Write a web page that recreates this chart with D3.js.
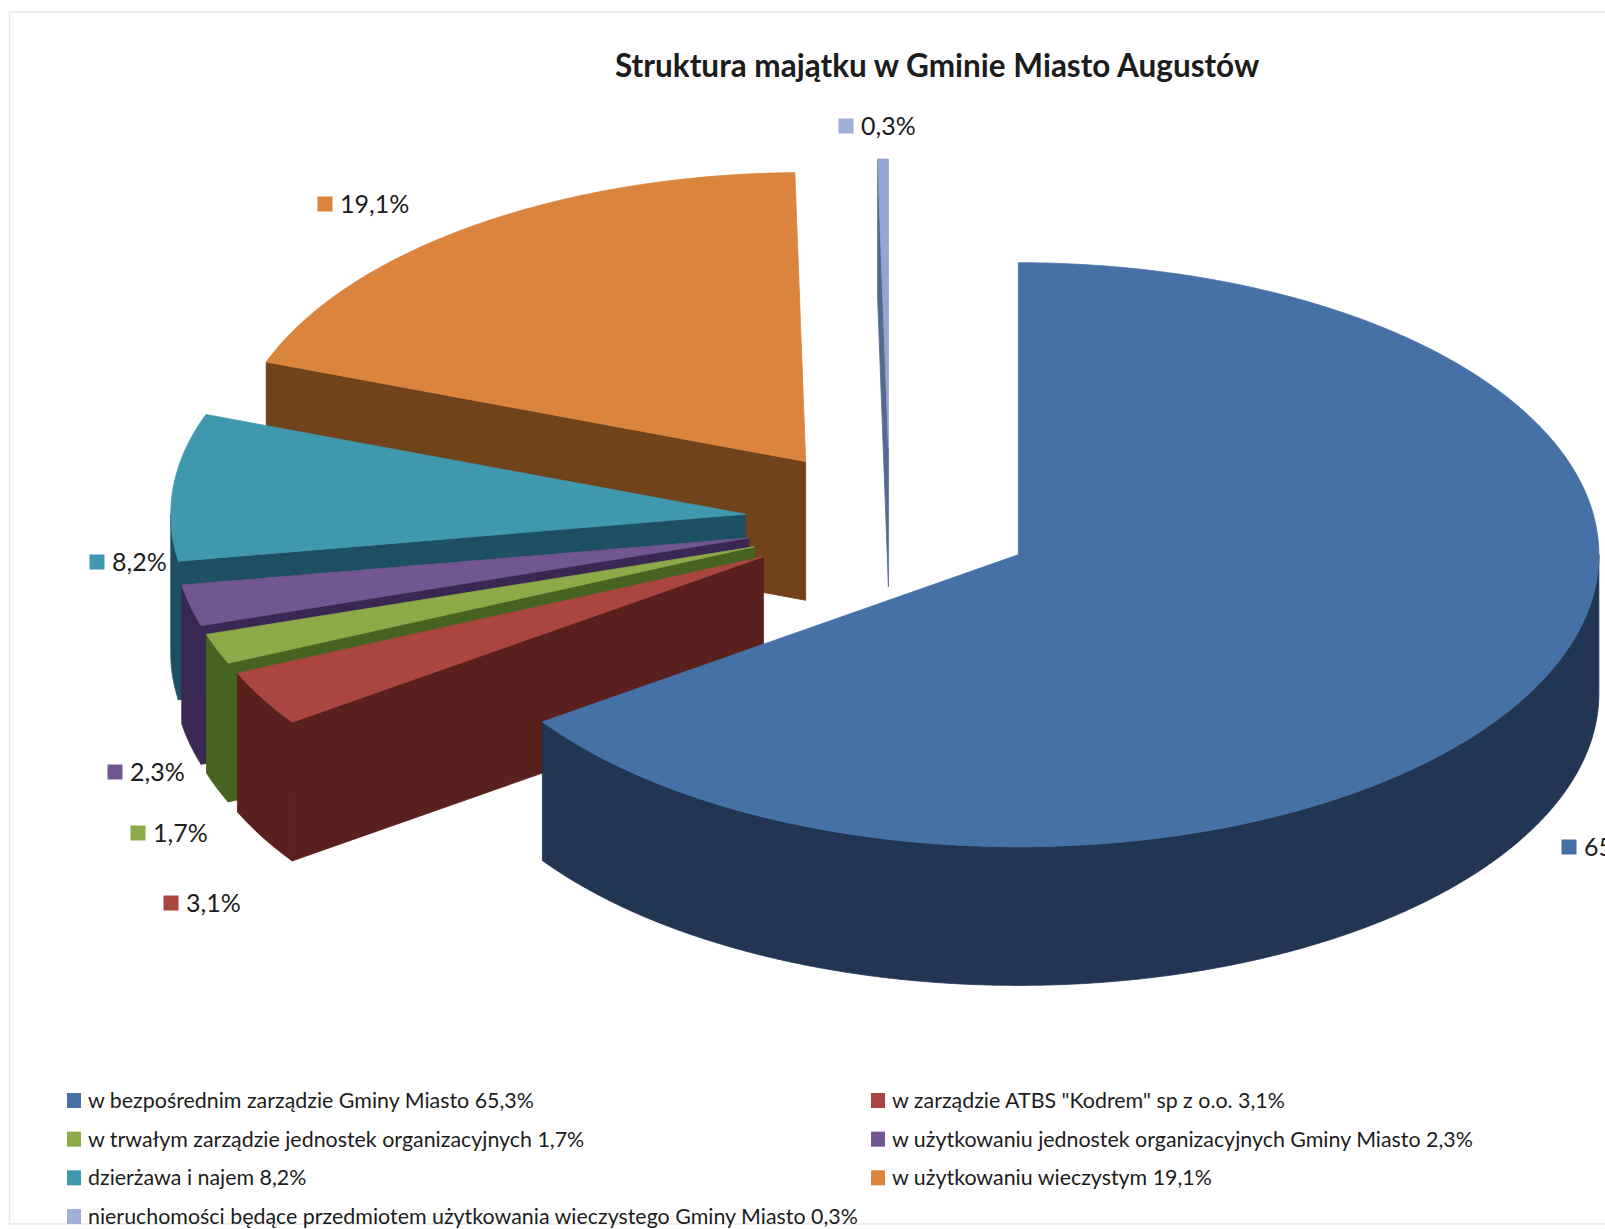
<!DOCTYPE html>
<html lang="pl">
<head>
<meta charset="utf-8">
<title>Struktura majątku</title>
<script src="https://cdn.jsdelivr.net/npm/d3@7/dist/d3.min.js"></script>
<style>
html,body{margin:0;padding:0;background:#fff;overflow:hidden}
svg{display:block}
text{font-family:Lato,"Open Sans",sans-serif;fill:#1c1c1c}
</style>
</head>
<body>
<svg id="chart" width="1605" height="1229" viewBox="0 0 1605 1229"></svg>
<script>
const titleText = "Struktura majątku w Gminie Miasto Augustów";
const categories = [
  "w bezpośrednim zarządzie Gminy Miasto 65,3%",
  'w zarządzie ATBS "Kodrem" sp z o.o. 3,1%',
  "w trwałym zarządzie jednostek organizacyjnych 1,7%",
  "w użytkowaniu jednostek organizacyjnych Gminy Miasto 2,3%",
  "dzierżawa i najem 8,2%",
  "w użytkowaniu wieczystym 19,1%",
  "nieruchomości będące przedmiotem użytkowania wieczystego Gminy Miasto 0,3%"
];
const values = [65.3, 3.1, 1.7, 2.3, 8.2, 19.1, 0.3];
const valueLabels = ["65,3%", "3,1%", "1,7%", "2,3%", "8,2%", "19,1%", "0,3%"];
const topColors = ["#4571A7", "#AA4541", "#8CAA47", "#71568F", "#4098AF", "#DB843D", "#93A6CF"];
const sideColors = ["#223654", "#5A201D", "#46631F", "#3A2852", "#1F4F62", "#70431B", "#56698F"];

// layout (separate from data)
const W = 1605, H = 1229;
const cx = 889.8, cy = 521, rx = 580.5, tilt = 0.503, depth = 138.7, explode = 145;
const farSideFactor = 0.99; // slices on the left read about 1% smaller in the 3-D view
const labelMarks = [[1569,847],[171,903],[138,833],[115,772],[97,562],[325,204],[846,126]];
const legendCol = d3.scaleOrdinal().domain([0,1]).range([74, 878]);
const legendRow = d3.scalePoint().domain([0,1,2,3]).range([1100.5, 1216.5]);

const svg = d3.select("#chart");
svg.append("rect").attr("x",9.5).attr("y",12).attr("width",1700).attr("height",1212)
   .attr("fill","#fff").attr("stroke","#e8e8e8").attr("stroke-width",1.5);

const slices = d3.pie().sort(null).value(d => d)(values).map((a,i) => ({...a, i}));
const line = d3.line();

function mid(a){ return (a.startAngle + a.endAngle)/2; }
function apex(a){
  const m = mid(a);
  return [cx + explode*Math.sin(m), cy - explode*tilt*Math.cos(m)];
}
function pt(a, ang, down){
  const o = apex(a), r = rx*(mid(a) > Math.PI ? farSideFactor : 1);
  return [o[0] + r*Math.sin(ang), o[1] - r*tilt*Math.cos(ang) + (down||0)];
}
function arcAngles(s, e){
  const n = Math.max(2, Math.ceil((e-s)/0.005));
  return d3.range(n+1).map(k => s + (e-s)*k/n);
}

// paint from the back of the pie to the front
const paintOrder = [6,5,4,3,2,1,0];
paintOrder.forEach(idx => {
  const a = slices[idx], s = a.startAngle, e = a.endAngle, o = apex(a);
  const g = svg.append("g").attr("class","slice");
  const side = sideColors[idx], top = topColors[idx];
  const paint = (pts, c) => g.append("path").attr("d", line(pts)+"Z")
    .attr("fill", c).attr("stroke", c).attr("stroke-width", 0.8);

  if (Math.sin(s) < 0) { // cut face on the start side is turned to the viewer
    const q = pt(a, s);
    paint([o, q, [q[0], q[1]+depth], [o[0], o[1]+depth]], side);
  }
  if (Math.sin(e) > 0) {
    const q = pt(a, e);
    paint([o, q, [q[0], q[1]+depth], [o[0], o[1]+depth]], side);
  }
  const ws = Math.max(s, Math.PI/2), we = Math.min(e, 3*Math.PI/2);
  if (we > ws) {
    const angs = arcAngles(ws, we);
    paint(angs.map(t => pt(a,t)).concat(angs.slice().reverse().map(t => pt(a,t,depth))), side);
  }
  paint([o].concat(arcAngles(s,e).map(t => pt(a,t))), top);
});

// data labels
slices.forEach(a => {
  const [x,y] = labelMarks[a.i];
  svg.append("rect").attr("x",x-7.5).attr("y",y-7.5).attr("width",15).attr("height",15).attr("fill",a.i===6 ? "#A0B0D8" : topColors[a.i]);
  svg.append("text").attr("x",x+15).attr("y",y+9).attr("font-size",25).text(valueLabels[a.i]);
});

// title
svg.append("text").attr("x",615).attr("y",77).attr("font-size",31.5).attr("font-weight",700).attr("fill","#111").text(titleText);

// legend
categories.forEach((c,i) => {
  const x = legendCol(i%2 && i<6 ? 1 : 0), y = legendRow(Math.floor(i/2));
  svg.append("rect").attr("x",x-7).attr("y",y-7.5).attr("width",14).attr("height",15).attr("fill",i===6 ? "#A0B0D8" : topColors[i]);
  svg.append("text").attr("x",x+14).attr("y",y+7.5).attr("font-size",21.4).attr("fill","#2a2a2a").text(c);
});
</script>
</body>
</html>
